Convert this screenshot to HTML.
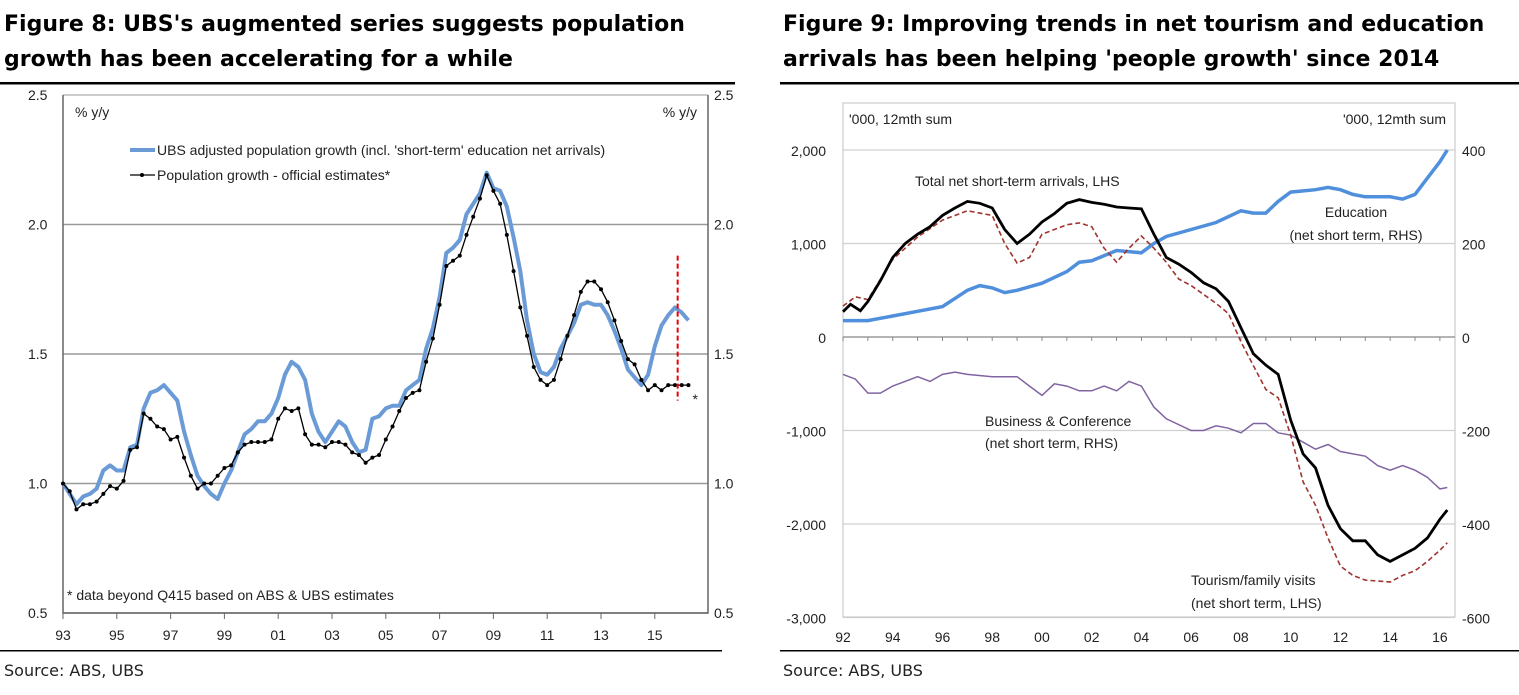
<!DOCTYPE html>
<html><head><meta charset="utf-8"><style>
body{margin:0;background:#fff;width:1519px;height:695px;overflow:hidden}
svg{display:block;font-family:"Liberation Sans",sans-serif}
.t{font-family:"DejaVu Sans","Liberation Sans",sans-serif;font-weight:bold;font-size:22px;fill:#000}
.tk{font-size:14px;fill:#222}
.src{font-family:"DejaVu Sans","Liberation Sans",sans-serif;font-size:16px;fill:#222}
</style></head><body>
<svg id="s" width="1519" height="695">
<text class="t" x="4" y="31">Figure 8: UBS's augmented series suggests population</text>
<text class="t" x="4" y="66">growth has been accelerating for a while</text>
<text class="t" x="783" y="31">Figure 9: Improving trends in net tourism and education</text>
<text class="t" x="783" y="66">arrivals has been helping 'people growth' since 2014</text>
<rect x="0" y="82" width="735" height="2.5" fill="#000"/>
<rect x="780" y="82" width="739" height="2.5" fill="#000"/>
<rect x="0" y="650" width="722" height="1.5" fill="#000"/>
<rect x="780" y="650" width="739" height="1.5" fill="#000"/>
<text class="src" x="4" y="676">Source: ABS, UBS</text>
<text class="src" x="783" y="676">Source: ABS, UBS</text>
<g id="L"></g><g id="R"></g>
</svg>
<script>
// ---- Figure 8 data ----
const f8Ticks=[0.5,1.0,1.5,2.0,2.5];
const f8YearLabels=['93','95','97','99','01','03','05','07','09','11','13','15'];
const ubsYears=[93,93.5,93.75,94,94.25,94.5,94.75,95,95.25,95.5,95.75,96,96.25,96.5,96.75,97,97.25,97.5,97.75,98,98.25,98.5,98.75,99,99.25,99.5,99.75,100,100.25,100.5,100.75,101,101.25,101.5,101.75,102,102.25,102.5,102.75,103,103.25,103.5,103.75,104,104.25,104.5,104.75,105,105.25,105.5,105.75,106,106.25,106.5,106.75,107,107.25,107.5,107.75,108,108.25,108.5,108.75,109,109.25,109.5,109.75,110,110.25,110.5,110.75,111,111.25,111.5,111.75,112,112.25,112.5,112.75,113,113.25,113.5,113.75,114,114.25,114.5,114.75,115,115.25,115.5,115.75,116,116.25];
const ubsVals=[1.0,0.92,0.95,0.96,0.98,1.05,1.07,1.05,1.05,1.14,1.15,1.29,1.35,1.36,1.38,1.35,1.32,1.2,1.11,1.03,0.99,0.96,0.94,1.0,1.05,1.12,1.19,1.21,1.24,1.24,1.27,1.33,1.42,1.47,1.45,1.40,1.27,1.20,1.16,1.20,1.24,1.22,1.16,1.12,1.13,1.25,1.26,1.29,1.30,1.30,1.36,1.38,1.40,1.52,1.60,1.72,1.89,1.91,1.94,2.04,2.08,2.12,2.20,2.14,2.13,2.07,1.95,1.82,1.63,1.50,1.43,1.42,1.45,1.52,1.57,1.62,1.69,1.70,1.69,1.69,1.65,1.59,1.52,1.44,1.41,1.38,1.42,1.53,1.61,1.65,1.68,1.66,1.63];
const offYears=[93,93.25,93.5,93.75,94,94.25,94.5,94.75,95,95.25,95.5,95.75,96,96.25,96.5,96.75,97,97.25,97.5,97.75,98,98.25,98.5,98.75,99,99.25,99.5,99.75,100,100.25,100.5,100.75,101,101.25,101.5,101.75,102,102.25,102.5,102.75,103,103.25,103.5,103.75,104,104.25,104.5,104.75,105,105.25,105.5,105.75,106,106.25,106.5,106.75,107,107.25,107.5,107.75,108,108.25,108.5,108.75,109,109.25,109.5,109.75,110,110.25,110.5,110.75,111,111.25,111.5,111.75,112,112.25,112.5,112.75,113,113.25,113.5,113.75,114,114.25,114.5,114.75,115,115.25,115.5,115.75,116,116.25];
const offVals=[1.0,0.97,0.9,0.92,0.92,0.93,0.96,0.99,0.98,1.01,1.13,1.14,1.27,1.25,1.22,1.21,1.17,1.18,1.10,1.03,0.98,1.0,1.0,1.03,1.06,1.07,1.12,1.15,1.16,1.16,1.16,1.17,1.25,1.29,1.28,1.29,1.19,1.15,1.15,1.14,1.16,1.16,1.15,1.12,1.11,1.08,1.10,1.11,1.17,1.22,1.28,1.33,1.35,1.36,1.47,1.56,1.69,1.84,1.86,1.88,1.96,2.03,2.10,2.19,2.13,2.08,1.96,1.82,1.68,1.57,1.45,1.40,1.38,1.40,1.48,1.57,1.65,1.74,1.78,1.78,1.75,1.70,1.63,1.55,1.48,1.46,1.40,1.36,1.38,1.36,1.38,1.38,1.38,1.38];
// ---- Figure 9 data ----
const f9LeftTicks=[2000,1000,0,-1000,-2000,-3000];
const f9LeftLabels=['2,000','1,000','0','-1,000','-2,000','-3,000'];
const f9RightTicks=[400,200,0,-200,-400,-600];
const f9YearLabels=['92','94','96','98','00','02','04','06','08','10','12','14','16'];
const totYears=[92,92.3,92.7,93,93.5,94,94.5,95,95.5,96,96.5,97,97.5,98,98.5,99,99.5,100,100.5,101,101.5,102,102.5,103,103.5,104,104.5,105,105.5,106,106.5,107,107.5,108,108.5,109,109.5,110,110.5,111,111.5,112,112.5,113,113.5,114,114.5,115,115.5,116,116.3];
const totVals=[270,350,280,380,600,850,1000,1100,1180,1300,1380,1450,1430,1380,1150,1000,1100,1230,1320,1430,1470,1440,1420,1390,1380,1370,1100,850,780,690,580,515,380,100,-180,-300,-400,-890,-1250,-1400,-1800,-2050,-2180,-2180,-2330,-2400,-2330,-2260,-2150,-1950,-1850];
const tourYears=[92,92.5,93,94,95,96,97,98,98.5,99,99.5,100,101,101.5,102,102.5,103,103.5,104,104.5,105,105.5,106,107,107.5,108,109,109.5,110,110.5,111,111.5,112,112.5,113,114,114.5,115,115.5,116,116.3];
const tourVals=[330,430,400,830,1070,1250,1350,1300,1000,790,850,1100,1200,1220,1180,950,800,950,1080,950,800,620,550,360,250,-50,-560,-650,-1050,-1550,-1800,-2150,-2450,-2550,-2600,-2620,-2550,-2500,-2400,-2280,-2200];
const eduYears=[92,93,94,95,96,97,97.5,98,98.5,99,100,101,101.5,102,103,104,104.5,105,106,107,108,108.5,109,109.5,110,111,111.5,112,112.5,113,114,114.5,115,115.5,116,116.3];
const eduVals=[35,35,45,55,65,100,110,105,95,100,115,140,160,163,185,180,200,215,230,245,270,265,265,290,310,315,320,315,305,300,300,295,305,340,375,400];
const busYears=[92,92.5,93,93.5,94,95,95.5,96,96.5,97,98,99,99.5,100,100.5,101,101.5,102,102.5,103,103.5,104,104.5,105,106,106.5,107,107.5,108,108.5,109,109.5,110,111,111.5,112,113,113.5,114,114.5,115,115.5,116,116.3];
const busVals=[-80,-90,-120,-120,-105,-85,-95,-80,-75,-80,-85,-85,-105,-125,-100,-105,-115,-115,-105,-115,-95,-105,-150,-175,-200,-200,-190,-195,-205,-185,-185,-205,-210,-240,-230,-245,-255,-275,-285,-275,-285,-300,-325,-322];

const NS='http://www.w3.org/2000/svg';
function mk(p,tag,a,txt){const e=document.createElementNS(NS,tag);for(const k in a)e.setAttribute(k,a[k]);if(txt!==undefined)e.textContent=txt;p.appendChild(e);return e;}
function path(xs,ys,fx,fy){return xs.map((x,i)=>(i?'L':'M')+fx(x).toFixed(1)+','+fy(ys[i]).toFixed(1)).join('');}

// Figure 8
const L=document.getElementById('L');
const lx=y=>63+(y-93)*26.9, ly=v=>613-(v-0.5)*259;
f8Ticks.forEach(v=>{
  const g=mk(L,'line',{x1:63,x2:708,y1:ly(v),y2:ly(v),stroke:v==2.5?'#bbb':'#999','stroke-width':1.5});
  
  const a=mk(L,'text',{x:28,y:ly(v)+5,class:'tk','font-size':15},v.toFixed(1));
  
  const b=mk(L,'text',{x:714,y:ly(v)+5,class:'tk','font-size':15},v.toFixed(1));
  
});
let ax=mk(L,'path',{d:'M63,95V613H708V95',stroke:'#666','stroke-width':1.5,fill:'none'});

f8YearLabels.forEach((t,i)=>{
  const x=lx(93+i*2);
  const tk=mk(L,'line',{x1:x,x2:x,y1:613,y2:619,stroke:'#666'});
  
  const tx=mk(L,'text',{x:x,y:640,'text-anchor':'middle',class:'tk','font-size':16},t);
  
});
[['% y/y',75,'start'],['% y/y',697,'end']].forEach(u=>{const t=mk(L,'text',{x:u[1],y:117,'text-anchor':u[2],class:'tk'},u[0]);});
let ubs=mk(L,'path',{d:path(ubsYears,ubsVals,lx,ly),stroke:'#6a9bd6','stroke-width':4,fill:'none','stroke-linejoin':'round'});

let off=mk(L,'path',{d:path(offYears,offVals,lx,ly),stroke:'#000','stroke-width':1.3,fill:'none'});

offYears.forEach((y,i)=>{const c=mk(L,'circle',{cx:lx(y),cy:ly(offVals[i]),r:2,fill:'#000'});});
let rd=mk(L,'line',{x1:lx(115.85),x2:lx(115.85),y1:ly(1.88),y2:ly(1.32),stroke:'#e00','stroke-width':2,'stroke-dasharray':'5,3'});

let as=mk(L,'text',{x:lx(116.4),y:ly(1.33)+6,class:'tk','font-size':12},'*');
let lg1=mk(L,'line',{x1:130,x2:155,y1:150,y2:150,stroke:'#6a9bd6','stroke-width':4});
let lt1=mk(L,'text',{x:157,y:155,class:'tk','font-size':14.5},"UBS adjusted population growth (incl. 'short-term' education net arrivals)");
let lg2=mk(L,'line',{x1:130,x2:155,y1:175,y2:175,stroke:'#000','stroke-width':1.3});
mk(L,'circle',{cx:142,cy:175,r:2});
let lt2=mk(L,'text',{x:157,y:180,class:'tk','font-size':14.5},'Population growth - official estimates*');
let nt=mk(L,'text',{x:67,y:600,class:'tk','font-size':13.5},'* data beyond Q415 based on ABS & UBS estimates');

// Figure 9
const R=document.getElementById('R');
const rx=y=>843+(y-92)*24.87, ry=v=>337-v*0.0935, rr=v=>ry(v*5);
f9LeftTicks.forEach((v,i)=>{
  if(v!==0){const g=mk(R,'line',{x1:843,x2:1455,y1:ry(v),y2:ry(v),stroke:'#d0d0d0','stroke-width':1.2});}
  const a=mk(R,'text',{x:826,y:ry(v)+6,'text-anchor':'end',class:'tk','font-size':15},f9LeftLabels[i]);
  
  const b=mk(R,'text',{x:1462,y:ry(v)+6,class:'tk','font-size':15},String(f9RightTicks[i]));
  
});
let box=mk(R,'rect',{x:843,y:103,width:612,height:514,fill:'none',stroke:'#ccc','stroke-width':1.2});

let zl=mk(R,'line',{x1:843,x2:1455,y1:337,y2:337,stroke:'#888','stroke-width':1.3});
for(let y=92;y<=116;y++){const t=mk(R,'line',{x1:rx(y),x2:rx(y),y1:337,y2:341,stroke:'#888'});}
f9YearLabels.forEach((t,i)=>{const x=rx(92+i*2);const e=mk(R,'text',{x:x,y:642,'text-anchor':'middle',class:'tk','font-size':14},t);});
[["'000, 12mth sum",849,'start'],["'000, 12mth sum",1446,'end']].forEach(u=>{const t=mk(R,'text',{x:u[1],y:124,'text-anchor':u[2],class:'tk','font-size':12.5},u[0]);});
let bus=mk(R,'path',{d:path(busYears,busVals,rx,rr),stroke:'#8064a2','stroke-width':1.5,fill:'none'});
let edu=mk(R,'path',{d:path(eduYears,eduVals,rx,rr),stroke:'#4f8fdc','stroke-width':3.5,fill:'none'});
let tour=mk(R,'path',{d:path(tourYears,tourVals,rx,ry),stroke:'#a0352f','stroke-width':1.6,fill:'none','stroke-dasharray':'5,3'});
let tot=mk(R,'path',{d:path(totYears,totVals,rx,ry),stroke:'#000','stroke-width':2.8,fill:'none'});
[['Total net short-term arrivals, LHS',915,186,'start'],['Education',1356,217,'middle'],['(net short term, RHS)',1356,240,'middle'],['Business & Conference',985,426,'start'],['(net short term, RHS)',985,448,'start'],['Tourism/family visits',1191,585,'start'],['(net short term, LHS)',1191,608,'start']].forEach(a=>{const t=mk(R,'text',{x:a[1],y:a[2],'text-anchor':a[3],class:'tk','font-size':14.5},a[0]);});
</script>
</body></html>
